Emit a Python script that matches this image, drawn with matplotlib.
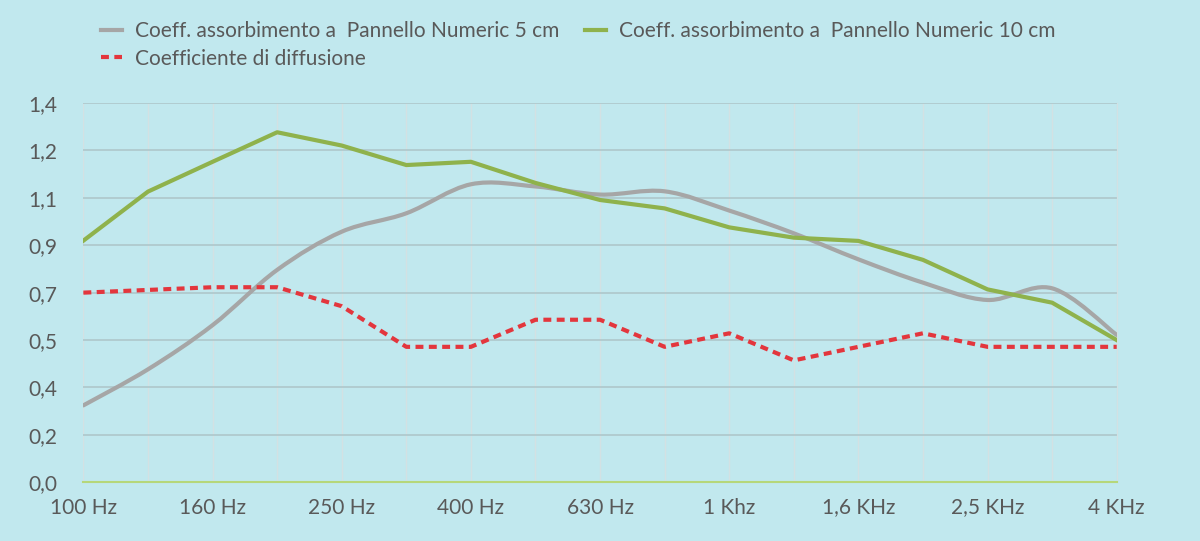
import matplotlib
matplotlib.use("Agg")
import matplotlib.pyplot as plt
import numpy as np
from matplotlib.lines import Line2D
from matplotlib.patches import PathPatch
from matplotlib.path import Path

plt.rcParams["font.family"] = ["Lato", "DejaVu Sans"]

# frequency bands (one-third octave), only every other one is labelled
bands = ["100 Hz", "125 Hz", "160 Hz", "200 Hz", "250 Hz", "315 Hz", "400 Hz",
         "500 Hz", "630 Hz", "800 Hz", "1 Khz", "1,25 KHz", "1,6 KHz", "2 KHz",
         "2,5 KHz", "3,15 KHz", "4 KHz"]
panel_5cm = [0.284, 0.417, 0.58, 0.784, 0.925, 0.993, 1.100, 1.092, 1.062,
             1.074, 1.003, 0.919, 0.823, 0.737, 0.673, 0.716, 0.544]
panel_10cm = [0.892, 1.073, 1.183, 1.292, 1.243, 1.171, 1.183, 1.105, 1.042,
              1.011, 0.941, 0.903, 0.891, 0.821, 0.712, 0.663, 0.525]
diffusion = [0.70, 0.71, 0.72, 0.72, 0.65, 0.50, 0.50, 0.60, 0.60, 0.50,
             0.55, 0.45, 0.50, 0.55, 0.50, 0.50, 0.50]
y_ticks = [0.0, 0.175, 0.35, 0.525, 0.70, 0.875, 1.05, 1.225, 1.40]
y_labels = ["0,0", "0,2", "0,4", "0,5", "0,7", "0,9", "1,1", "1,2", "1,4"]

BG = "#C1E8EE"
TEXT = "#595959"
GREY = "#A6A6A6"
GREEN = "#8FB24C"
RED = "#E3363D"
FS = 15


def smooth_path(xs, ys, tension=1 / 6):
    # Catmull-Rom style control points, drawn as cubic Bezier by matplotlib
    pts = np.column_stack([xs, ys])
    n = len(pts)
    verts = [pts[0]]
    codes = [Path.MOVETO]
    for i in range(n - 1):
        p0 = pts[max(i - 1, 0)]
        p1 = pts[i]
        p2 = pts[i + 1]
        p3 = pts[min(i + 2, n - 1)]
        c1 = p1 + (p2 - p0) * tension
        c2 = p2 - (p3 - p1) * tension
        verts += [c1, c2, p2]
        codes += [Path.CURVE4] * 3
    return Path(verts, codes)


fig = plt.figure(figsize=(12, 5.41), dpi=100, facecolor=BG)
ax = fig.add_axes([0.0695, 0.1085, 0.8611, 0.7011], facecolor=BG)

x = np.arange(len(bands))
ax.add_patch(PathPatch(smooth_path(x, panel_5cm), facecolor="none",
                       edgecolor=GREY, lw=3.0, capstyle="round", zorder=3))
ax.plot(x, panel_10cm, color=GREEN, lw=3.0, zorder=3)
ax.plot(x, diffusion, color=RED, lw=3.0, linestyle=(0, (1.9, 1.3)), zorder=3)

ax.set_xlim(0, len(bands) - 1)
ax.set_ylim(0, 1.4)
ax.set_xticks(x)
ax.set_xticklabels([b if i % 2 == 0 else "" for i, b in enumerate(bands)])
ax.set_yticks(y_ticks)
ax.set_yticklabels(y_labels)
ax.tick_params(length=0, colors=TEXT, labelsize=FS)
ax.tick_params(axis="x", pad=11)
ax.tick_params(axis="y", pad=19)

for yv in y_ticks[1:]:
    ax.axhline(yv, color="#AEC7CB", lw=1.2, zorder=1)
for xv in x:
    ax.axvline(xv, color="#D3E1E3", lw=1.0, zorder=0.5)
for side in ["top", "left"]:
    ax.spines[side].set_visible(False)
ax.spines["right"].set_color("#D3E1E3")
ax.spines["bottom"].set_color("#B6D77A")
ax.spines["bottom"].set_linewidth(1.5)

handles = [
    Line2D([], [], color=GREY, lw=3.0),
    Line2D([], [], color=RED, lw=3.0, linestyle=(0, (1.9, 1.3))),
    Line2D([], [], color=GREEN, lw=3.0),
]
labels = [
    "Coeff. assorbimento a  Pannello Numeric 5 cm",
    "Coefficiente di diffusione",
    "Coeff. assorbimento a  Pannello Numeric 10 cm",
]
fig.legend(handles, labels, ncol=2, loc="upper left",
           bbox_to_anchor=(0.0773, 0.976), frameon=False, fontsize=FS,
           labelcolor=TEXT, handlelength=1.0, handletextpad=0.63,
           columnspacing=1.25, labelspacing=0.35, borderaxespad=0)

fig.savefig("out.png", dpi=100, facecolor=BG)
